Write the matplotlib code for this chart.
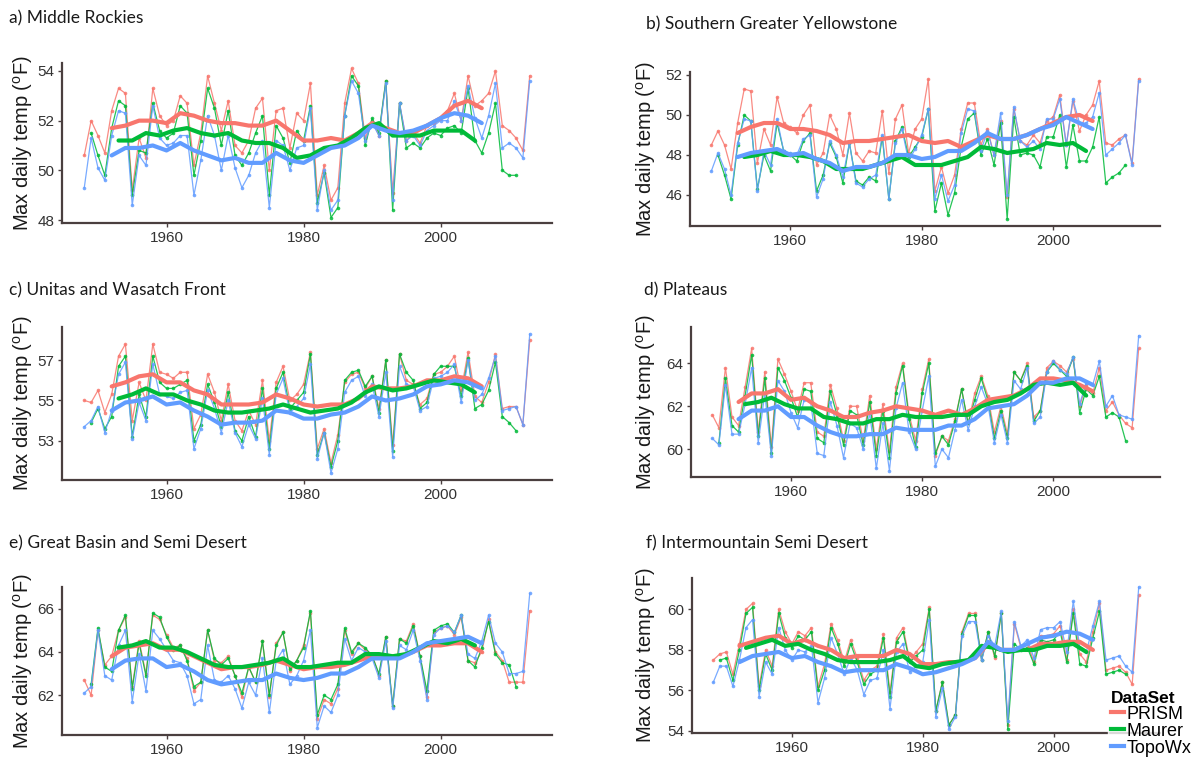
import numpy as np
import matplotlib
matplotlib.use('Agg')
import matplotlib.pyplot as plt
from matplotlib.lines import Line2D

# Anni delle serie annuali
years = np.arange(1948, 2014)          # PRISM e TopoWx
years_maurer = np.arange(1949, 2012)   # Maurer
sm_years = np.arange(1952, 2008, 2)    # medie mobili PRISM / TopoWx
sm_years_maurer = np.arange(1953, 2006, 2)  # media mobile Maurer

# a) Middle Rockies
a_prism = [50.6, 52.0, 51.4, 50.7, 52.4, 53.3, 53.1, 49.2, 51.3, 50.5,
           53.3, 52.2, 51.8, 52.0, 53.0, 52.7, 50.2, 51.5, 53.8, 52.7,
           51.6, 52.8, 51.0, 50.7, 51.2, 52.5, 52.9, 50.0, 52.4, 52.5,
           50.9, 52.3, 52.0, 53.5, 49.0, 50.2, 48.8, 49.3, 52.7, 54.1,
           53.5, 51.3, 52.0, 51.4, 53.6, 49.1, 52.7, 51.2, 51.5, 51.1,
           51.8, 51.9, 52.1, 52.4, 53.1, 52.0, 53.8, 52.6, 52.8, 53.1,
           54.0, 51.8, 51.6, 51.3, 50.8, 53.8]
a_maurer = [51.5, 50.6, 49.8, 51.7, 52.8, 52.6, 49.0, 50.8, 50.7, 52.7,
            51.6, 51.3, 51.5, 52.6, 52.3, 49.8, 51.2, 53.3, 52.5, 51.0,
            52.4, 50.6, 50.2, 50.7, 51.5, 52.2, 49.0, 51.8, 51.3, 50.3,
            51.6, 51.2, 52.6, 48.7, 49.9, 48.1, 48.5, 52.2, 53.8, 53.4,
            51.0, 52.1, 51.5, 53.6, 48.4, 52.7, 50.9, 51.1, 50.9, 51.3,
            51.5, 51.4, 51.7, 51.8, 51.5, 53.3, 51.2, 50.7, 51.5, 52.7,
            50.0, 49.8, 49.8]
a_topowx = [49.3, 51.3, 50.1, 49.6, 51.4, 52.4, 52.3, 48.6, 50.6, 50.2,
            52.6, 51.3, 51.0, 51.1, 51.4, 51.4, 49.0, 50.4, 52.2, 51.4,
            50.0, 51.4, 50.1, 49.3, 49.8, 50.7, 51.2, 48.5, 51.2, 51.0,
            50.0, 50.9, 51.0, 52.5, 48.4, 50.0, 48.4, 48.8, 52.2, 53.6,
            53.1, 51.2, 51.9, 51.4, 53.5, 48.8, 52.7, 51.2, 51.4, 51.0,
            51.6, 51.8, 52.0, 52.0, 52.8, 52.0, 53.4, 52.1, 51.3, 52.2,
            53.5, 50.9, 51.1, 50.9, 50.5, 53.6]
a_prism_s = [51.7, 51.8, 52.0, 52.0, 51.9, 52.3, 52.2, 52.0, 51.9, 51.9,
             51.8, 51.8, 52.0, 51.6, 51.2, 51.2, 51.3, 51.2, 51.5, 51.9,
             51.7, 51.5, 51.5, 51.8, 52.1, 52.6, 52.8, 52.5]
a_maurer_s = [51.2, 51.2, 51.5, 51.4, 51.6, 51.7, 51.5, 51.4, 51.5, 51.2,
              51.1, 51.1, 50.9, 50.5, 50.6, 50.9, 51.0, 51.3, 51.7, 51.9,
              51.4, 51.4, 51.4, 51.6, 51.6, 51.6, 51.2]
a_topowx_s = [50.6, 50.9, 50.9, 51.0, 50.8, 51.1, 50.8, 50.6, 50.4, 50.5,
              50.3, 50.3, 50.7, 50.4, 50.3, 50.6, 50.9, 51.0, 51.3, 51.8,
              51.6, 51.5, 51.6, 51.8, 52.1, 52.3, 52.2, 51.9]

# b) Southern Greater Yellowstone
b_prism = [48.5, 49.2, 48.5, 47.3, 49.6, 51.3, 51.2, 47.6, 49.3, 48.5,
           50.9, 49.6, 49.4, 49.1, 50.0, 50.5, 47.5, 48.1, 50.0, 49.3,
           48.0, 50.1, 48.1, 47.7, 48.2, 48.1, 50.2, 47.1, 49.8, 50.5,
           48.1, 49.3, 49.8, 51.8, 46.2, 47.4, 46.1, 47.0, 49.3, 50.6,
           50.6, 48.5, 49.3, 48.0, 49.7, 45.9, 50.3, 48.7, 48.5, 49.0,
           48.6, 49.7, 49.9, 51.0, 48.5, 50.7, 49.2, 50.0, 50.5, 51.7,
           48.6, 48.5, 48.8, 49.0, 47.6, 51.8]
b_maurer = [48.0, 47.0, 45.8, 48.5, 50.0, 49.7, 46.3, 48.0, 47.2, 49.6,
            48.2, 48.0, 47.7, 48.7, 49.1, 46.2, 47.0, 48.6, 47.9, 46.6,
            48.6, 46.7, 46.5, 46.9, 46.7, 48.9, 45.8, 48.7, 49.4, 47.9,
            48.4, 48.9, 50.3, 45.2, 46.6, 45.0, 46.1, 48.4, 49.8, 50.1,
            48.0, 48.8, 47.5, 49.6, 44.8, 49.9, 48.0, 48.1, 48.0, 47.4,
            48.9, 48.9, 50.0, 47.4, 49.5, 47.7, 47.7, 48.4, 49.9, 46.6,
            46.9, 47.1, 47.5]
b_topowx = [47.2, 48.1, 47.3, 46.0, 48.6, 49.8, 49.7, 46.2, 48.2, 47.5,
            49.8, 48.2, 48.1, 48.0, 48.8, 49.0, 45.9, 46.8, 48.7, 48.0,
            46.9, 48.6, 46.6, 46.4, 46.8, 47.0, 49.0, 45.8, 48.6, 49.3,
            47.7, 48.3, 49.0, 50.3, 45.8, 47.0, 45.7, 46.5, 49.1, 50.3,
            50.2, 48.2, 49.2, 48.0, 50.1, 46.0, 50.4, 48.7, 48.4, 48.7,
            48.3, 49.8, 49.8, 50.8, 48.5, 50.8, 49.6, 49.6, 49.9, 51.1,
            48.0, 48.3, 48.6, 49.0, 47.5, 51.7]
b_prism_s = [49.1, 49.4, 49.6, 49.6, 49.3, 49.3, 49.2, 49.0, 48.6, 48.7,
             48.7, 48.8, 48.9, 49.0, 48.7, 48.6, 48.7, 48.4, 48.7, 49.0,
             48.8, 48.8, 49.0, 49.3, 49.6, 49.9, 50.0, 49.7]
b_maurer_s = [47.9, 48.0, 48.2, 48.0, 48.0, 47.9, 47.7, 47.3, 47.3, 47.3,
              47.5, 47.7, 47.9, 47.5, 47.5, 47.5, 47.7, 47.9, 48.4, 48.3,
              48.1, 48.2, 48.3, 48.6, 48.5, 48.6, 48.2]
b_topowx_s = [47.9, 48.1, 48.2, 48.3, 48.0, 48.1, 47.8, 47.6, 47.2, 47.4,
              47.4, 47.6, 48.0, 48.0, 47.8, 47.9, 48.2, 48.2, 48.6, 49.1,
              48.8, 48.8, 49.0, 49.3, 49.5, 49.9, 49.6, 49.3]

# c) Unitas and Wasatch Front
c_prism = [55.0, 54.9, 55.5, 54.4, 55.3, 57.2, 57.8, 54.0, 55.9, 55.0,
           57.8, 56.4, 56.3, 56.1, 56.4, 56.4, 53.6, 54.3, 56.3, 55.4,
           54.0, 55.8, 54.0, 53.5, 54.5, 53.8, 56.0, 53.0, 55.9, 56.7,
           55.0, 55.3, 55.8, 57.4, 52.6, 53.6, 51.9, 53.3, 55.9, 56.3,
           56.4, 55.6, 56.2, 54.6, 57.0, 52.8, 57.3, 56.0, 55.8, 54.8,
           55.1, 56.3, 56.4, 56.7, 57.2, 55.5, 57.4, 55.2, 54.9, 55.9,
           57.3, 54.6, 54.7, 54.7, 53.8, 58.0]
c_maurer = [53.9, 54.6, 53.6, 54.2, 56.7, 57.2, 53.2, 55.3, 54.2, 57.2,
            55.9, 55.6, 55.6, 55.8, 56.0, 53.0, 53.8, 55.8, 54.9, 53.7,
            55.4, 53.5, 53.0, 54.2, 53.2, 55.6, 52.6, 55.6, 56.4, 54.6,
            55.0, 55.4, 57.3, 52.3, 53.4, 51.7, 53.0, 56.0, 56.4, 56.5,
            55.7, 56.2, 54.4, 57.0, 52.5, 57.3, 56.4, 56.0, 54.6, 54.9,
            56.3, 56.7, 56.7, 56.7, 55.2, 57.1, 54.6, 54.8, 55.5, 56.9,
            54.2, 53.9, 53.5]
c_topowx = [53.7, 54.0, 54.7, 53.4, 54.5, 56.3, 56.9, 53.1, 54.9, 54.0,
            56.8, 55.3, 55.2, 55.1, 55.4, 55.5, 52.6, 53.6, 55.5, 54.6,
            53.4, 55.0, 53.4, 52.7, 53.8, 53.1, 55.1, 52.3, 55.3, 56.1,
            54.4, 54.7, 55.1, 56.8, 52.1, 53.4, 51.4, 52.6, 55.4, 56.0,
            56.2, 55.2, 55.8, 54.2, 56.4, 52.2, 56.7, 55.8, 55.7, 54.5,
            54.7, 56.1, 56.2, 56.4, 56.8, 54.9, 57.0, 55.0, 55.3, 56.1,
            57.2, 54.5, 54.6, 54.7, 53.8, 58.3]
c_prism_s = [55.7, 55.9, 56.2, 56.3, 55.9, 55.9, 55.5, 55.3, 54.8, 54.8,
             54.8, 54.9, 55.3, 55.1, 54.8, 54.7, 54.8, 54.8, 55.1, 55.7,
             55.6, 55.6, 55.7, 56.0, 56.0, 56.2, 56.1, 55.7]
c_maurer_s = [55.1, 55.3, 55.6, 55.3, 55.3, 55.0, 54.8, 54.5, 54.4, 54.4,
              54.5, 54.6, 54.8, 54.6, 54.4, 54.5, 54.6, 54.9, 55.4, 55.7,
              55.5, 55.6, 55.8, 56.0, 55.9, 55.8, 55.4]
c_topowx_s = [54.5, 54.9, 55.0, 55.2, 54.8, 54.9, 54.5, 54.2, 53.8, 53.9,
              53.9, 54.0, 54.5, 54.4, 54.1, 54.1, 54.3, 54.4, 54.7, 55.2,
              55.0, 55.1, 55.3, 55.7, 55.8, 56.0, 55.9, 55.6]

# d) Plateaus
d_prism = [61.6, 61.0, 63.8, 61.5, 61.1, 62.9, 64.7, 60.8, 63.6, 60.1,
           64.2, 63.5, 62.7, 61.8, 63.1, 63.1, 60.8, 60.6, 63.0, 61.9,
           60.4, 62.0, 62.0, 60.4, 62.5, 60.0, 62.1, 59.9, 62.9, 64.0,
           61.6, 60.4, 62.8, 64.2, 59.7, 60.6, 60.4, 61.4, 62.8, 61.2,
           62.6, 63.4, 62.5, 60.8, 62.0, 60.7, 63.6, 63.2, 64.0, 61.5,
           61.8, 63.8, 64.1, 63.9, 63.6, 64.2, 62.0, 63.0, 62.6, 63.8,
           61.8, 62.2, 61.6, 61.2, 61.0, 64.7]
d_maurer = [60.3, 63.3, 61.1, 60.8, 62.5, 64.4, 60.6, 63.3, 59.8, 63.8,
            63.2, 62.4, 61.5, 62.8, 62.7, 60.5, 60.3, 62.7, 61.6, 60.2,
            61.8, 61.6, 60.2, 62.2, 59.7, 61.8, 59.6, 62.6, 63.9, 61.4,
            60.1, 62.6, 64.0, 59.8, 60.6, 60.2, 61.3, 62.8, 61.2, 62.3,
            63.3, 62.3, 60.5, 61.8, 60.5, 63.6, 63.2, 63.9, 61.3, 61.8,
            63.6, 64.0, 63.7, 63.4, 64.3, 61.7, 62.8, 62.5, 63.4, 61.5,
            61.7, 61.5, 60.4]
d_topowx = [60.5, 60.2, 63.0, 60.7, 60.7, 62.1, 63.8, 60.3, 62.6, 59.7,
            63.2, 62.7, 61.7, 61.0, 62.3, 62.2, 59.8, 59.7, 62.2, 61.1,
            59.6, 61.2, 61.0, 60.0, 61.7, 59.1, 61.2, 59.0, 61.9, 63.1,
            60.8, 60.0, 61.8, 63.4, 59.2, 60.0, 59.6, 60.9, 62.3, 60.9,
            62.0, 62.9, 62.1, 60.3, 61.6, 60.3, 63.2, 62.8, 63.8, 61.2,
            61.5, 63.6, 64.1, 63.7, 63.5, 64.3, 62.1, 63.1, 63.0, 64.1,
            62.0, 62.5, 61.6, 61.5, 61.4, 65.3]
d_prism_s = [62.2, 62.6, 62.6, 62.8, 62.3, 62.4, 62.0, 61.8, 61.5, 61.5,
             61.7, 61.8, 62.0, 61.9, 61.8, 61.6, 61.8, 61.6, 61.9, 62.3,
             62.4, 62.5, 62.8, 63.3, 63.3, 63.2, 63.0, 62.7]
d_maurer_s = [62.1, 62.2, 62.4, 62.1, 61.9, 61.9, 61.5, 61.4, 61.2, 61.2,
              61.4, 61.4, 61.6, 61.5, 61.5, 61.5, 61.6, 61.6, 62.0, 62.2,
              62.3, 62.6, 63.0, 63.1, 63.0, 63.1, 62.5]
d_topowx_s = [61.4, 61.8, 61.8, 62.0, 61.5, 61.5, 61.1, 60.8, 60.6, 60.6,
              60.7, 60.7, 61.0, 60.9, 60.9, 60.9, 61.1, 61.1, 61.4, 61.9,
              62.0, 62.1, 62.5, 63.1, 63.1, 63.3, 63.3, 63.0]

# e) Great Basin and Semi Desert
e_prism = [62.7, 62.0, 65.0, 63.4, 63.8, 65.0, 65.6, 62.4, 64.5, 63.0,
           65.7, 65.5, 64.8, 64.2, 64.3, 63.7, 62.2, 62.6, 65.0, 63.6,
           63.5, 63.8, 62.9, 61.9, 63.3, 62.6, 64.5, 61.9, 64.4, 64.9,
           63.1, 63.6, 64.3, 65.8, 60.9, 61.8, 61.6, 62.3, 65.0, 63.9,
           64.4, 64.1, 63.9, 62.9, 64.7, 61.5, 64.6, 64.5, 65.3, 63.8,
           61.9, 64.9, 65.1, 65.2, 64.8, 65.6, 63.6, 63.5, 64.0, 65.5,
           64.0, 63.6, 62.6, 62.6, 62.6, 65.9]
e_maurer = [62.5, 65.1, 63.3, 63.1, 65.0, 65.7, 62.3, 64.4, 62.9, 65.8,
            65.6, 64.7, 64.1, 64.3, 63.6, 62.4, 62.6, 65.0, 63.7, 63.4,
            63.7, 62.9, 62.1, 63.3, 62.6, 64.5, 62.0, 64.3, 64.9, 63.2,
            63.6, 64.2, 65.9, 61.1, 62.0, 61.8, 62.5, 65.1, 64.0, 64.4,
            64.2, 63.8, 63.0, 64.7, 61.5, 64.6, 64.4, 65.2, 63.8, 62.2,
            65.0, 65.2, 65.3, 64.9, 65.7, 63.6, 63.3, 64.2, 65.4, 63.9,
            63.5, 63.4, 62.4]
e_topowx = [62.1, 62.4, 65.0, 62.9, 62.7, 64.3, 65.0, 61.7, 63.9, 62.2,
            65.0, 64.6, 64.1, 63.6, 63.5, 62.9, 61.6, 61.8, 64.3, 62.7,
            62.6, 62.9, 62.3, 61.4, 62.6, 62.0, 63.7, 61.2, 63.6, 64.1,
            62.5, 62.9, 63.6, 65.0, 60.5, 61.5, 61.2, 62.0, 64.6, 63.6,
            64.2, 64.0, 63.7, 62.8, 64.5, 61.4, 64.3, 64.1, 65.0, 63.6,
            61.8, 64.8, 65.1, 65.2, 64.9, 65.7, 63.9, 63.7, 64.5, 65.7,
            64.4, 64.0, 63.0, 63.0, 63.1, 66.7]
e_prism_s = [63.8, 64.2, 64.3, 64.4, 64.1, 64.1, 63.8, 63.5, 63.2, 63.3,
             63.3, 63.4, 63.6, 63.4, 63.2, 63.3, 63.3, 63.4, 63.6, 63.8,
             63.8, 63.8, 64.0, 64.3, 64.3, 64.4, 64.4, 64.0]
e_maurer_s = [64.2, 64.3, 64.5, 64.2, 64.2, 64.0, 63.7, 63.4, 63.3, 63.3,
              63.4, 63.5, 63.7, 63.3, 63.3, 63.4, 63.5, 63.5, 63.9, 63.9,
              63.8, 63.9, 64.2, 64.5, 64.4, 64.6, 64.3]
e_topowx_s = [63.2, 63.6, 63.7, 63.7, 63.3, 63.4, 63.1, 62.7, 62.5, 62.6,
              62.7, 62.7, 63.0, 62.8, 62.7, 62.8, 63.0, 63.0, 63.3, 63.7,
              63.7, 63.7, 64.0, 64.4, 64.5, 64.6, 64.7, 64.4]

# f) Intermountain Semi Desert
f_prism = [57.5, 57.8, 57.9, 56.8, 58.3, 60.0, 60.3, 56.2, 58.0, 57.2,
           60.0, 58.9, 58.3, 58.9, 58.7, 59.1, 56.2, 57.3, 59.3, 58.5,
           57.4, 58.5, 57.6, 56.5, 57.0, 57.2, 58.8, 55.9, 58.6, 59.1,
           57.5, 57.9, 58.3, 60.1, 55.0, 56.4, 54.3, 54.8, 58.9, 59.8,
           59.8, 57.5, 58.9, 57.6, 59.8, 54.3, 59.3, 58.1, 58.3, 57.4,
           58.7, 58.7, 58.8, 59.2, 57.5, 60.0, 57.8, 57.4, 58.9, 60.3,
           57.0, 57.1, 57.2, 56.9, 56.3, 60.7]
f_maurer = [57.5, 57.6, 56.5, 58.0, 59.8, 60.1, 56.0, 57.8, 57.0, 59.8,
            58.6, 58.1, 58.7, 58.5, 58.9, 56.0, 57.0, 59.1, 58.3, 57.2,
            58.3, 57.4, 56.3, 56.8, 57.0, 58.6, 55.7, 58.4, 58.9, 57.4,
            57.7, 58.0, 60.0, 55.0, 56.4, 54.3, 54.8, 58.8, 59.7, 59.7,
            57.5, 58.9, 57.7, 59.8, 54.1, 58.3, 58.0, 58.1, 57.3, 58.5,
            58.4, 58.5, 58.9, 57.4, 59.8, 57.3, 57.2, 58.6, 59.9, 56.8,
            56.9, 57.0, 56.8]
f_topowx = [56.4, 57.2, 57.2, 56.2, 57.5, 59.1, 59.5, 55.7, 57.4, 56.8,
            59.1, 58.0, 57.5, 58.0, 57.9, 58.2, 55.4, 56.6, 58.6, 57.8,
            56.8, 57.6, 57.0, 55.8, 56.5, 56.6, 58.0, 55.1, 57.9, 58.3,
            56.9, 57.2, 57.4, 59.5, 54.7, 56.1, 54.1, 54.7, 58.7, 59.4,
            59.4, 57.5, 58.7, 58.2, 59.9, 54.5, 59.4, 58.2, 58.5, 57.6,
            59.0, 59.1, 59.1, 59.4, 57.9, 60.4, 58.1, 57.9, 59.2, 60.4,
            57.5, 57.6, 57.7, 57.2, 56.9, 61.1]
f_prism_s = [58.2, 58.4, 58.6, 58.7, 58.3, 58.5, 58.2, 58.0, 57.6, 57.7,
             57.7, 57.7, 58.0, 57.8, 57.3, 57.3, 57.4, 57.4, 57.6, 58.3,
             58.0, 58.0, 58.0, 58.3, 58.3, 58.4, 58.4, 58.0]
f_maurer_s = [58.1, 58.3, 58.5, 58.2, 58.3, 58.0, 57.8, 57.5, 57.4, 57.4,
              57.4, 57.5, 57.7, 57.2, 57.1, 57.3, 57.4, 57.5, 58.2, 58.1,
              57.9, 58.0, 58.0, 58.2, 58.2, 58.3, 57.9]
f_topowx_s = [57.4, 57.7, 57.8, 57.9, 57.6, 57.7, 57.4, 57.2, 56.9, 57.0,
              57.0, 57.0, 57.3, 57.1, 56.8, 56.9, 57.1, 57.3, 57.6, 58.4,
              58.0, 58.0, 58.3, 58.6, 58.7, 58.9, 58.8, 58.5]

titles = ['a) Middle Rockies', 'b) Southern Greater Yellowstone',
          'c) Unitas and Wasatch Front', 'd) Plateaus',
          'e) Great Basin and Semi Desert', 'f) Intermountain Semi Desert']
datasets = ['PRISM', 'Maurer', 'TopoWx']
colori = ['#F8766D', '#00BA38', '#619CFF']

# (serie annuali, medie mobili, limiti y, tick y)
pannelli = [
    ((a_prism, a_maurer, a_topowx), (a_prism_s, a_maurer_s, a_topowx_s), (47.88, 54.32), [48, 50, 52, 54]),
    ((b_prism, b_maurer, b_topowx), (b_prism_s, b_maurer_s, b_topowx_s), (44.45, 52.15), [46, 48, 50, 52]),
    ((c_prism, c_maurer, c_topowx), (c_prism_s, c_maurer_s, c_topowx_s), (51.05, 58.65), [53, 55, 57]),
    ((d_prism, d_maurer, d_topowx), (d_prism_s, d_maurer_s, d_topowx_s), (58.7, 65.7), [60, 62, 64]),
    ((e_prism, e_maurer, e_topowx), (e_prism_s, e_maurer_s, e_topowx_s), (60.16, 67.0), [62, 64, 66]),
    ((f_prism, f_maurer, f_topowx), (f_prism_s, f_maurer_s, f_topowx_s), (53.9, 61.55), [54, 56, 58, 60]),
]

# Posizioni in pixel: (sinistra, destra, alto, basso), titolo (x, y), etichetta y (x)
W, H = 1197, 762
riquadri = [(62, 552, 63, 223), (690, 1160, 72, 226),
            (62, 552, 327, 480), (691, 1160, 327, 477),
            (62, 552, 587, 735), (692, 1160, 578, 733)]
pos_titoli = [(9, 18), (646, 24), (9, 290), (644, 290), (9, 543), (646, 543)]
pos_ylabel = [23, 646, 23, 646, 23, 646]

plt.rcParams['font.family'] = ['Liberation Sans', 'DejaVu Sans']
col_assi = '#4a3f3f'

fig = plt.figure(figsize=(W / 100, H / 100), dpi=100)
fig.patch.set_facecolor('white')

for i, (serie, medie, ylim, yticks) in enumerate(pannelli):
    l, r, t, b = riquadri[i]
    ax = fig.add_axes([l / W, 1 - b / H, (r - l) / W, (b - t) / H])
    anni = [years, years_maurer, years]
    anni_m = [sm_years, sm_years_maurer, sm_years]
    for k in range(3):
        ax.plot(anni[k], serie[k], color=colori[k], lw=0.9, alpha=0.85,
                marker='o', markersize=2.6, markeredgewidth=0, zorder=2)
    for k in range(3):
        ax.plot(anni_m[k], medie[k], color=colori[k], lw=3.0,
                solid_capstyle='round', zorder=3)
    ax.set_xlim(1944.75, 2016.25)
    ax.set_ylim(*ylim)
    ax.set_xticks([1960, 1980, 2000])
    ax.set_yticks(yticks)
    for s in ['top', 'right']:
        ax.spines[s].set_visible(False)
    for s in ['left', 'bottom']:
        ax.spines[s].set_color(col_assi)
        ax.spines[s].set_linewidth(1.6)
    ax.tick_params(colors=col_assi, labelcolor='#333333', labelsize=11,
                   length=3, width=1, pad=2.5)
    ax.set_facecolor('white')

    tx, ty = pos_titoli[i]
    fig.text(tx / W, 1 - ty / H, titles[i], family='Lato', fontsize=12.5,
             color='#1a1a1a', ha='left', va='center')
    fig.text(pos_ylabel[i] / W, 1 - ((t + b) / 2) / H,
             r'Max daily temp ($\mathregular{^{o}}$F)', fontsize=14.5,
             rotation=90, ha='center', va='center', color='#1a1a1a')

maniglie = [Line2D([], [], color=c, lw=3) for c in colori]
leg = fig.legend(maniglie, datasets, title='DataSet', loc='lower right',
                 bbox_to_anchor=(1.0, 0.0), frameon=True, fontsize=13,
                 handlelength=0.7, handletextpad=0.15, labelspacing=0.0,
                 borderpad=0.2, borderaxespad=0.1, alignment='left')
leg.get_frame().set_facecolor('white')
leg.get_frame().set_edgecolor('white')
leg.get_title().set_fontweight('bold')
leg.get_title().set_fontsize(12.5)

fig.savefig('out.png', dpi=100, facecolor='white')
